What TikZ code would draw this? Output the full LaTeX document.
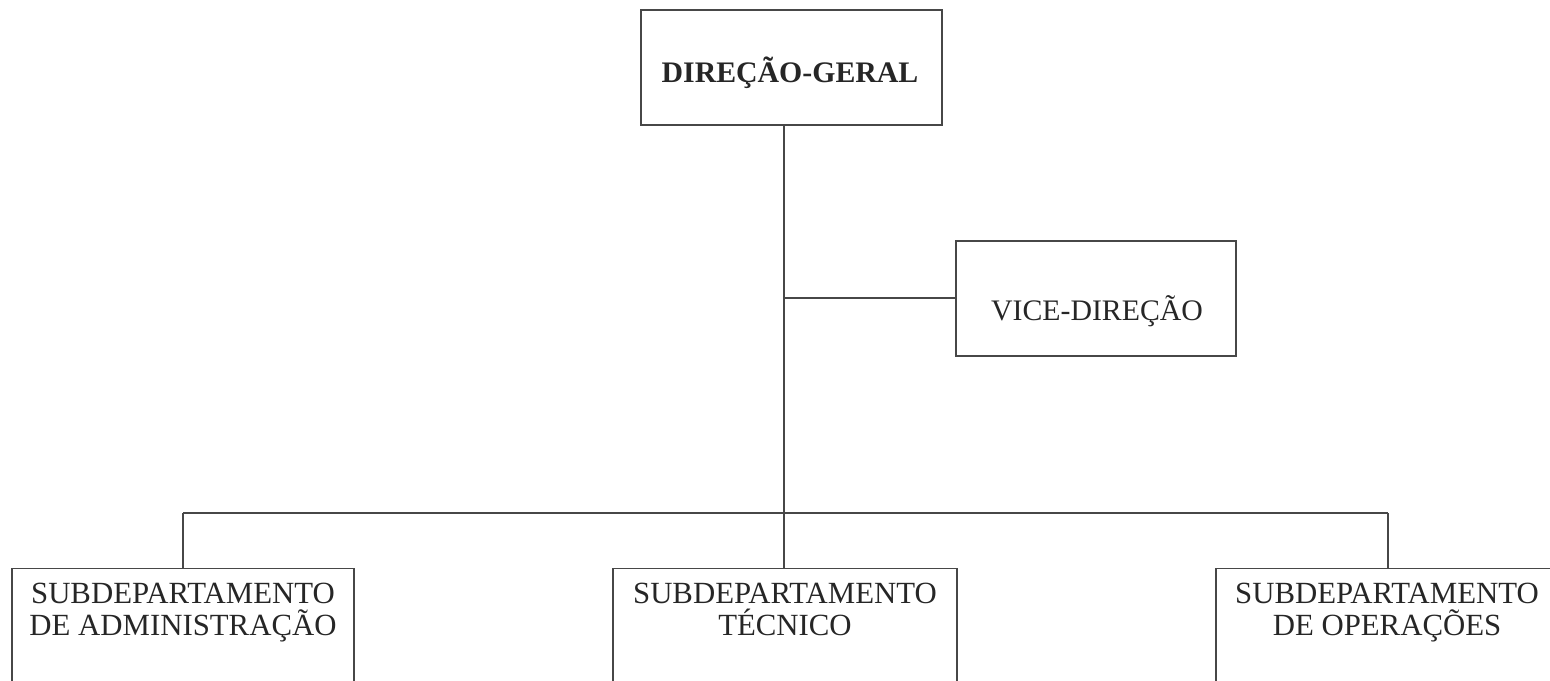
\documentclass[tikz,border=0pt]{standalone}
\usepackage{fontspec}
\setmainfont{Liberation Serif}
\begin{document}
\begin{tikzpicture}[x=1pt,y=-1pt,
  box/.style={draw=black!72,line width=1.4pt,rectangle,inner sep=0pt},
  lbl/.style={inner sep=0pt,font=\fontsize{29.8}{32}\selectfont,text=black!85},
  toplbl/.style={lbl,anchor=north,align=center,font=\fontsize{30.8}{32}\selectfont},
  conn/.style={draw=black!72,line width=1.4pt}]
\path[use as bounding box,clip] (0,0) rectangle (1550,680);
% boxes
\node[box,minimum width=301pt,minimum height=115pt] (dg) at (791.5,67.5) {};
\node[box,minimum width=280pt,minimum height=115pt] (vd) at (1096,298.5) {};
\node[box,minimum width=342pt,minimum height=160pt,anchor=north] (sa) at (183,568) {};
\node[box,minimum width=344pt,minimum height=160pt,anchor=north] (st) at (785,568) {};
\node[box,minimum width=344pt,minimum height=160pt,anchor=north] (so) at (1388,568) {};
% labels
\node[lbl,anchor=base,font=\fontsize{29.8}{32}\selectfont\bfseries] (dgl) at (790,82) {DIREÇÃO-GERAL};
\node[lbl,anchor=base] (vdl) at (1097,320) {VICE-DIREÇÃO};
\node[toplbl] (sal) at (183,582.8) {SUBDEPARTAMENTO\\DE ADMINISTRAÇÃO};
\node[toplbl] (stl) at (785,582.8) {SUBDEPARTAMENTO\\TÉCNICO};
\node[toplbl] (sol) at (1387,582.8) {SUBDEPARTAMENTO\\DE OPERAÇÕES};
% connectors
\coordinate (j1) at (784,513);
\coordinate (jv) at (784,298);
\draw[conn] (dg.south -| j1) -- (j1);
\draw[conn] (jv) -- (vd.west |- jv);
\draw[conn] (sa.north |- j1) -- (so.north |- j1);
\draw[conn] (sa.north |- j1) -- (sa.north);
\draw[conn] (j1) -- (j1 |- st.north);
\draw[conn] (so.north |- j1) -- (so.north);
\end{tikzpicture}
\end{document}
